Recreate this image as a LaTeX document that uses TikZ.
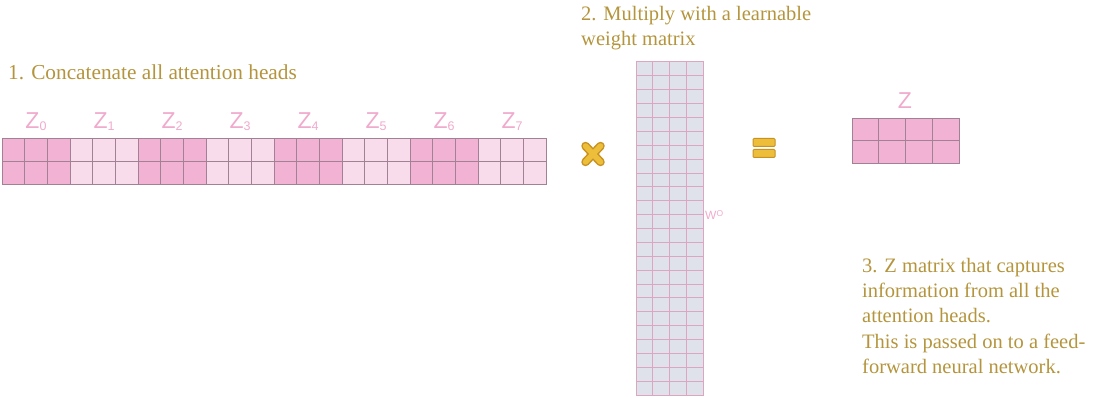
\documentclass[tikz,border=0pt]{standalone}
\usepackage{fontspec}
\setmainfont{Liberation Serif}
\newfontfamily\labfont{Liberation Sans}
\definecolor{txtgold}{HTML}{B4943C}
\definecolor{headdark}{HTML}{F2B2D4}
\definecolor{headlight}{HTML}{F9DCEB}
\definecolor{gridline}{HTML}{A08294}
\definecolor{labpink}{HTML}{F0AACC}
\definecolor{wfill}{HTML}{DFE2EA}
\definecolor{wline}{HTML}{DCA6C0}
\definecolor{opfill}{HTML}{EDBE3A}
\definecolor{opedge}{HTML}{C89222}
\tikzset{
  caption/.style={text=txtgold, font=\fontsize{20.5}{25.2}\selectfont, inner sep=0pt, align=left},
  zlab/.style={text=labpink, font=\labfont\fontsize{23}{23}\selectfont, inner sep=0pt},
  gridstroke/.style={draw=gridline, line width=0.8pt},
}
\newcommand{\subd}[1]{{\fontsize{12.5}{12.5}\selectfont\raisebox{-2pt}{#1}}}
\begin{document}
\begin{tikzpicture}[x=1pt,y=-1pt]
\useasboundingbox (0,0) rectangle (1099,398);
% captions
\node[caption, anchor=base west, font=\fontsize{21.3}{25.2}\selectfont] (cap1) at (8,80) {1. Concatenate all attention heads};
\node[caption, anchor=north west] (cap2) at (581,6) {2. Multiply with a learnable\\weight matrix};
\node[caption, anchor=north west] (cap3) at (862,258) {3. Z matrix that captures\\information from all the\\attention heads.\\This is passed on to a feed-\\forward neural network.};
% concatenated matrix
\foreach \i in {0,...,7} {
  \pgfmathsetmacro{\xa}{2+68*\i}
  \pgfmathsetmacro{\xb}{2+68*(\i+1)}
  \ifodd\i
    \fill[headlight] (\xa,138) rectangle (\xb,184);
  \else
    \fill[headdark] (\xa,138) rectangle (\xb,184);
  \fi
  \node[zlab] (zh\i) at ({36+68*\i},122) {Z\subd{\i}};
}
\foreach \c in {1,...,23} {
  \draw[gridline, line width=0.7pt] ({2+544*\c/24},138) -- ({2+544*\c/24},184);
}
\draw[gridline, line width=0.8pt] (2,161) -- (546,161);
\draw[gridstroke] (2,138) rectangle (546,184);
% multiply sign
\node[inner sep=0pt, minimum size=24pt] (mul) at (593,154) {};
\draw[opedge, line width=8.5pt, line cap=round] (mul.center) ++(-7.5,-8) -- ++(15,16);
\draw[opedge, line width=8.5pt, line cap=round] (mul.center) ++(7.5,-8) -- ++(-15,16);
\draw[opfill, line width=5.5pt, line cap=round] (mul.center) ++(-7.5,-8) -- ++(15,16);
\draw[opfill, line width=5.5pt, line cap=round] (mul.center) ++(7.5,-8) -- ++(-15,16);
% weight matrix
\fill[wfill] (636,62) rectangle (703,395);
\foreach \c in {1,2,3} {
  \draw[wline, line width=0.9pt] ({636+67*\c/4},62) -- ({636+67*\c/4},395);
}
\foreach \r in {1,...,23} {
  \draw[wline, line width=0.9pt] (636,{62+333*\r/24}) -- (703,{62+333*\r/24});
}
\draw[wline, line width=1pt] (636,62) rectangle (703,395);
\node[text=labpink, font=\labfont\fontsize{12}{12}\selectfont, anchor=west, inner sep=0pt] (wlab) at (705,215) {W\raisebox{2.5pt}{\fontsize{8.5}{8.5}\selectfont O}};
% equals sign
\node[inner sep=0pt, minimum width=23pt, minimum height=20pt] (eq) at (764,148) {};
\filldraw[fill=opfill, draw=opedge, line width=1pt, rounded corners=1pt] (753,138.5) rectangle (775,146.5);
\filldraw[fill=opfill, draw=opedge, line width=1pt, rounded corners=1pt] (753,149.5) rectangle (775,157.5);
% Z matrix
\fill[headdark] (852,118) rectangle (959,163);
\foreach \c in {1,2,3} {
  \draw[gridline, line width=0.8pt] ({852+107*\c/4},118) -- ({852+107*\c/4},163);
}
\draw[gridline, line width=0.8pt] (852,140.5) -- (959,140.5);
\draw[gridstroke] (852,118) rectangle (959,163);
\node[zlab] (zout) at (905,101) {Z};
\end{tikzpicture}
\end{document}
